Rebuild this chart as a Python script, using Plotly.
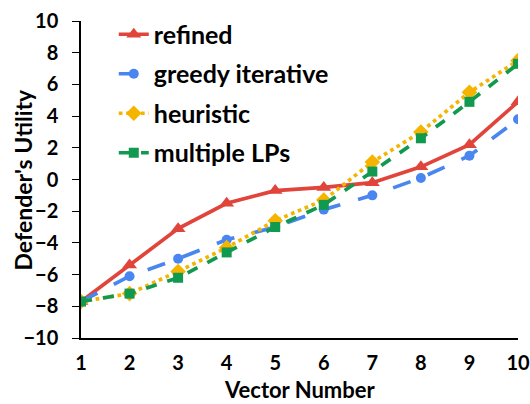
import plotly.graph_objects as go

vectors = [1, 2, 3, 4, 5, 6, 7, 8, 9, 10]
refined = [-7.7, -5.4, -3.1, -1.5, -0.7, -0.5, -0.2, 0.8, 2.2, 4.9]
greedy = [-7.7, -6.1, -5.0, -3.8, -3.0, -1.9, -1.0, 0.1, 1.5, 3.8]
heuristic = [-7.7, -7.2, -5.8, -4.3, -2.6, -1.3, 1.1, 3.0, 5.5, 7.5]
multiple = [-7.7, -7.2, -6.2, -4.6, -3.0, -1.6, 0.5, 2.6, 4.9, 7.3]

series = [
    ("refined", refined, "#E0443A", "solid", "triangle-up", 13),
    ("greedy iterative", greedy, "#4A86F0", "longdash", "circle", 10),
    ("heuristic", heuristic, "#F5B400", "dot", "diamond", 12),
    ("multiple LPs", multiple, "#10994F", "dash", "square", 10),
]

fig = go.Figure()
for i, (name, vals, col, dash, sym, ms) in enumerate(series):
    fig.add_trace(go.Scatter(
        x=vectors, y=vals, name=name, mode="lines+markers",
        line=dict(color=col, width=3.7, dash=dash),
        marker=dict(symbol=sym, size=ms, color=col),
        legendgroup="g%d" % i,
    ))

fnt = "Lato, 'Open Sans', sans-serif"
fig.update_layout(
    width=530, height=404,
    margin=dict(l=81, r=12, t=17, b=66),
    plot_bgcolor="white", paper_bgcolor="white",
    font=dict(family=fnt, color="black"),
    showlegend=True,
    legend=dict(x=0.075, y=1.03, xanchor="left", yanchor="top",
                font=dict(size=25, family=fnt, weight="bold"),
                bgcolor="rgba(0,0,0,0)", tracegroupgap=4,
                traceorder="grouped"),
    xaxis=dict(range=[1, 10], tickvals=vectors, showgrid=False, zeroline=False,
               showline=True, linecolor="black", linewidth=1.5, ticks="",
               ticklabelstandoff=6, automargin=False,
               tickfont=dict(size=20, weight="bold")),
    yaxis=dict(range=[-10, 10], dtick=2, showgrid=False, zeroline=False,
               showline=True, linecolor="black", linewidth=1.5, ticks="outside",
               ticklen=7, tickcolor="black", ticklabelstandoff=10, automargin=False,
               tickfont=dict(size=20, weight="bold")),
    annotations=[
        dict(text="<b>Vector Number</b>", xref="paper", yref="paper",
             x=0.5, y=-0.21, xanchor="center", yanchor="bottom",
             showarrow=False, font=dict(size=22, family=fnt)),
        dict(text="<b>Defender's Utility</b>", xref="paper", yref="paper",
             x=-0.135, y=0.5, xanchor="center", yanchor="middle", textangle=-90,
             showarrow=False, font=dict(size=23, family=fnt)),
    ],
)
fig.write_html("out.html", post_script="document.body.style.margin='0';",
               config={"displayModeBar": False})
